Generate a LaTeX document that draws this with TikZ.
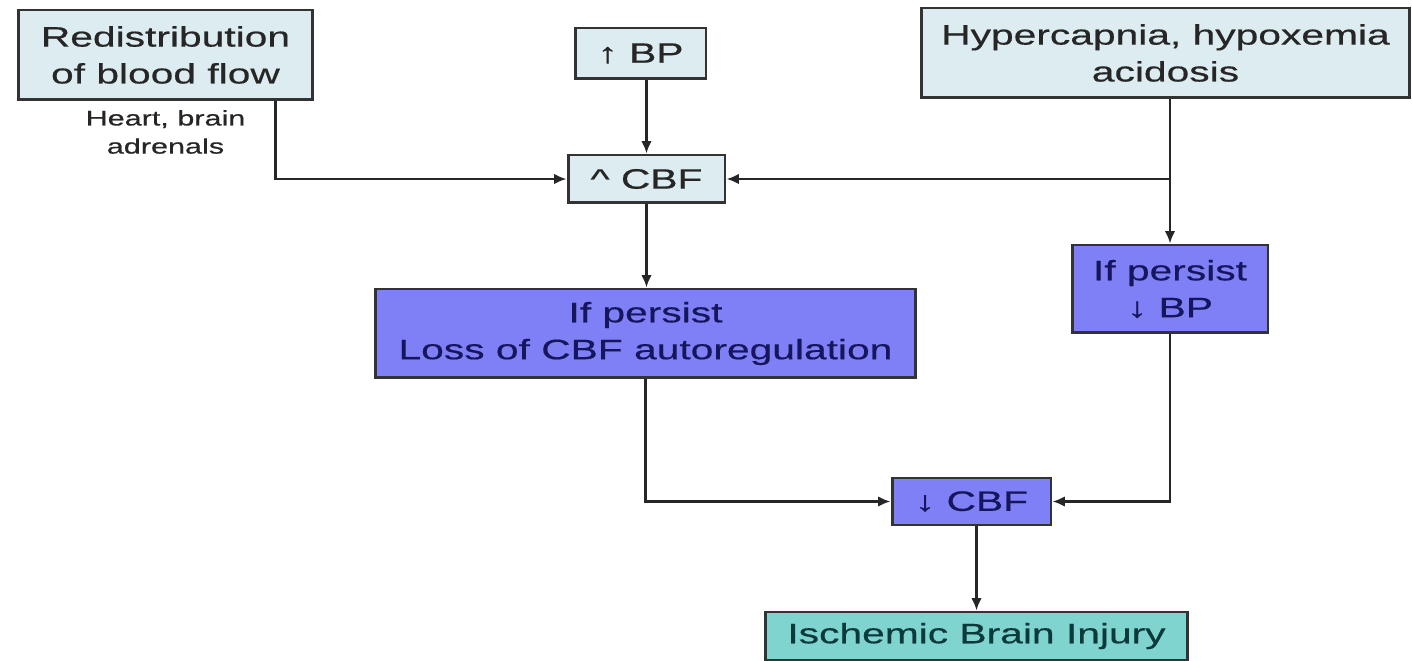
\documentclass[tikz,border=0pt]{standalone}
\usepackage{fontspec}
\setmainfont[FakeStretch=1.45,FakeBold=0.5]{Liberation Sans}
\usetikzlibrary{arrows.meta}
\definecolor{paleblue}{HTML}{DDECF0}
\definecolor{slateblue}{HTML}{8080F6}
\definecolor{tealbox}{HTML}{80D4D0}
\definecolor{navytext}{HTML}{16165E}
\definecolor{tealtext}{HTML}{0C3A3A}
\tikzset{
  box/.style={draw=black!80, line width=1.7pt, inner sep=0pt, align=center,
    font=\fontsize{16}{21}\selectfont},
  pale/.style={box, fill=paleblue, text=black!85},
  stage/.style={box, fill=slateblue, text=navytext},
  outcome/.style={box, fill=tealbox, text=tealtext},
  link/.style={line width=1.4pt, draw=black!85, -{Latex[length=7pt,width=6pt]}},
}

\begin{document}
\begin{tikzpicture}[x=0.02cm, y=-0.02cm]
  \useasboundingbox (0,0) rectangle (1412,661);

  % Define nodes

  \node[pale, minimum width=5.9cm, minimum height=1.8cm] (redist) at (165.5,55) {Redistribution\\of blood flow};
  \node[align=center, text=black!85, font=\fontsize{12}{16}\selectfont] (organs) at (165.5,132) {Heart, brain\\adrenals};
  \node[pale, minimum width=2.62cm, minimum height=1.02cm] (bp) at (640.5,53.5) {↑ BP};
  \node[pale, minimum width=3.14cm, minimum height=0.96cm] (cbfup) at (646.5,179) {\textasciicircum{} CBF};
  \node[pale, minimum width=9.78cm, minimum height=1.8cm] (hyper) at (1165.5,53) {Hypercapnia, hypoxemia\\acidosis};
  \node[stage, minimum width=3.92cm, minimum height=1.76cm] (persistbp) at (1170,289) {If persist\\↓ BP};
  \node[stage, minimum width=10.82cm, minimum height=1.78cm] (loss) at (645.5,333.5) {If persist\\Loss of CBF autoregulation};
  \node[stage, minimum width=3.18cm, minimum height=0.94cm] (cbfdown) at (971.5,501.5) {↓ CBF};
  \node[outcome, minimum width=8.46cm, minimum height=0.96cm] (injury) at (976.5,636) {Ischemic Brain Injury};

  \coordinate (fork) at (persistbp.north |- cbfup);

  % Connect the nodes
  \draw[link] ([xshift=-0.78cm]redist.south east) |- (cbfup.west);
  \draw[link] (bp.south -| cbfup.north) -- (cbfup.north);
  \draw[link] (persistbp.north |- hyper.south) -- (persistbp.north);
  \draw[link] (fork) -- (cbfup.east);
  \draw[link] (cbfup.south) -- (cbfup.south |- loss.north);
  \draw[link] (loss.south) |- (cbfdown.west);
  \draw[link] (persistbp.south) |- (cbfdown.east);
  \draw[link] (cbfdown.south -| injury.north) -- (injury.north);

\end{tikzpicture}
\end{document}
